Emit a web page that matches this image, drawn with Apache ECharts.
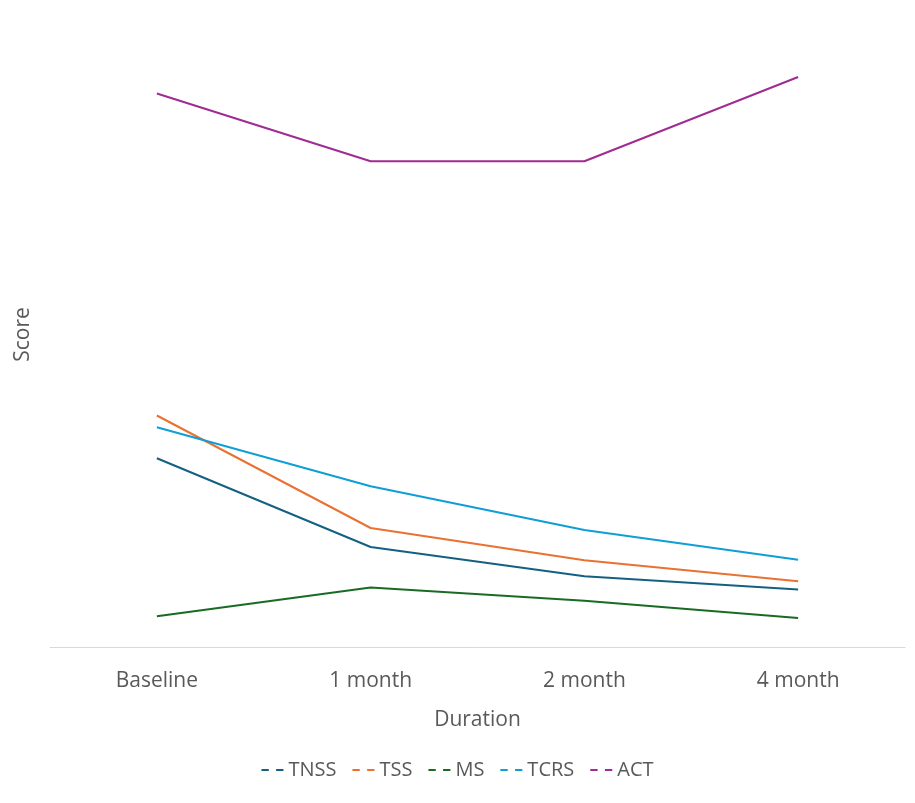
<!DOCTYPE html>
<html><head><meta charset="utf-8">
<script src="https://cdn.jsdelivr.net/npm/echarts@6/dist/echarts.min.js"></script>
<style>html,body{margin:0;padding:0;background:#fff}#c{width:915px;height:803px}</style>
</head><body><div id="c"></div>
<script>
const categories = ['Baseline','1 month','2 month','4 month'];
const TNSS = [7.55, 4, 2.83, 2.3];
const TSS = [9.26, 4.76, 3.47, 2.63];
const MS = [1.23, 2.38, 1.85, 1.16];
const TCRS = [8.79, 6.43, 4.68, 3.49];
const ACT = [22.14, 19.43, 19.43, 22.8];
const names = ['TNSS','TSS','MS','TCRS','ACT'];
const colors = ['#156082','#e97132','#196b24','#0f9ed5','#a02b93'];
const data = [TNSS, TSS, MS, TCRS, ACT];
const chart = echarts.init(document.getElementById('c'));
chart.setOption({
  animation:false,
  grid:{left:50,right:10,top:22,bottom:156},
  legend:{bottom:18,left:'center',itemWidth:22,itemGap:16,
    textStyle:{fontSize:20,color:'#595959',fontFamily:'Open Sans'},
    data:names.map((n,i)=>({name:n,icon:'path://M0,0h4v1h-4zM8,0h4v1h-4z',itemStyle:{color:colors[i],opacity:1}}))},
  xAxis:{type:'category',data:categories,boundaryGap:true,
    axisLine:{lineStyle:{color:'#d9d9d9'}},axisTick:{show:false},
    axisLabel:{fontSize:21,color:'#595959',margin:24,fontFamily:'Open Sans'},
    name:'Duration',nameLocation:'middle',nameGap:63,
    nameTextStyle:{fontSize:21,color:'#595959',fontFamily:'Open Sans'}},
  yAxis:{type:'value',min:0,max:25,axisLine:{show:false},axisLabel:{show:false},
    axisTick:{show:false},splitLine:{show:false},
    name:'Score',nameLocation:'middle',nameGap:16,
    nameTextStyle:{fontSize:21,color:'#595959',fontFamily:'Open Sans'}},
  series:names.map((n,i)=>({name:n,type:'line',data:data[i],symbol:'circle',symbolSize:1,
    showSymbol:true,
    lineStyle:{color:colors[i],width:2},itemStyle:{color:colors[i],opacity:0},
    label:{show:true,position:'top',distance:0,offset:[0,9],color:colors[i],
      fontWeight:'bold',fontSize:14,fontFamily:'Open Sans'}}))
});
</script></body></html>
